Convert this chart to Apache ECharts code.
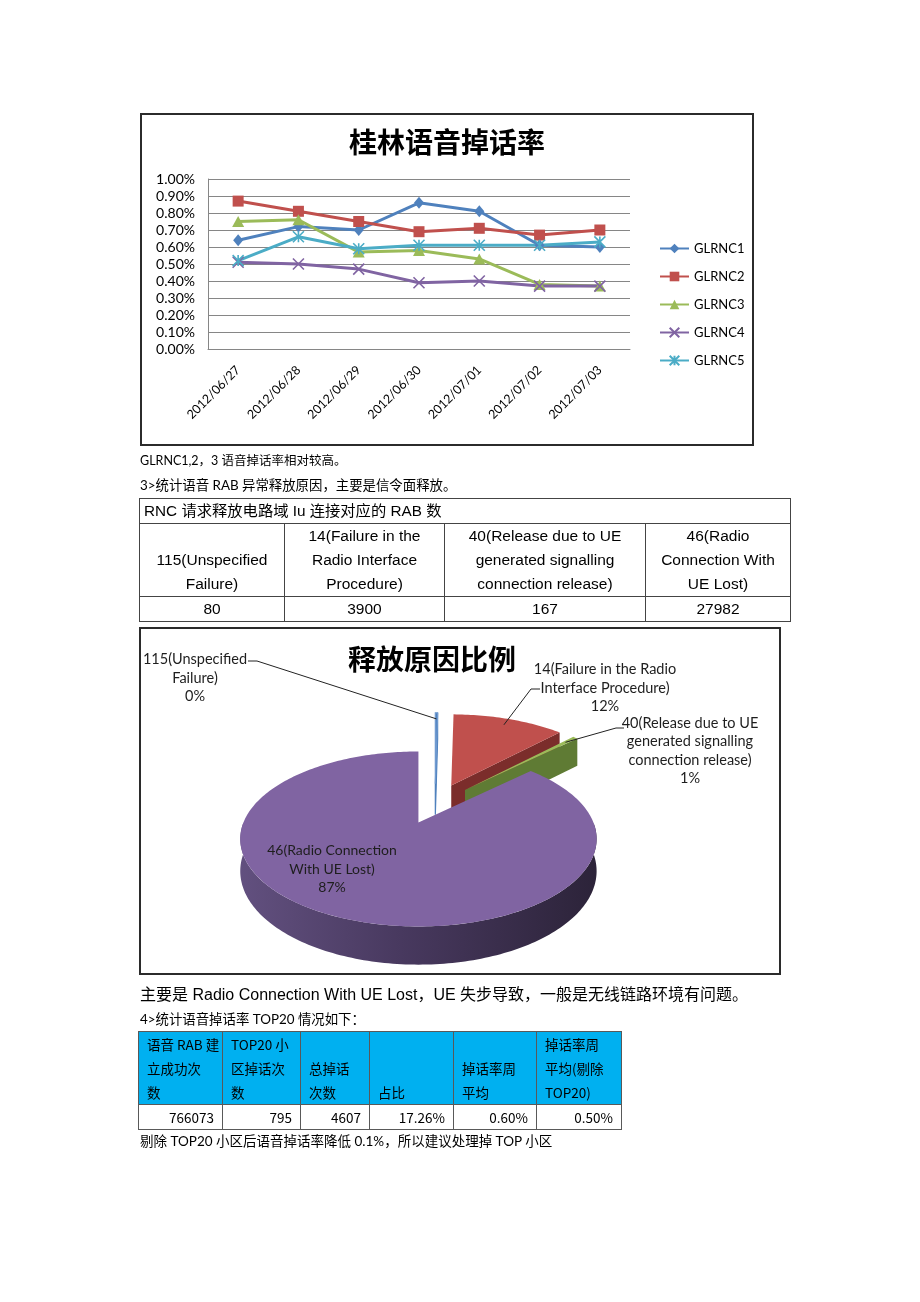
<!DOCTYPE html>
<html><head><meta charset="utf-8">
<script src="https://cdn.jsdelivr.net/npm/echarts@6/dist/echarts.min.js"></script>
<style>
html,body{margin:0;padding:0;background:#fff;}
#page{position:relative;width:920px;height:1302px;overflow:hidden;background:#fff;}
#chart{position:absolute;left:0;top:0;width:920px;height:1302px;}
.t{position:absolute;white-space:nowrap;color:#000;}
.box{position:absolute;border:2px solid #2b2b2b;box-sizing:border-box;}
table{border-collapse:collapse;position:absolute;table-layout:fixed;}
#t1 td{border:1px solid #444;font-family:"Liberation Sans","Noto Sans CJK SC",sans-serif;font-size:15.5px;line-height:24px;padding:0;text-align:center;color:#000;}
#t1 td.h{text-align:left;padding-left:4px;font-size:15.3px;}
#t1 td.b{vertical-align:bottom;}
#t2 td{border:1px solid #595959;font-family:"Noto Sans CJK SC",sans-serif;font-size:13.5px;line-height:24px;padding:0;color:#000;}
#t2 td.hd{background:#00B0F0;vertical-align:bottom;text-align:left;padding-left:8px;}
#t2 td.v{text-align:right;padding-right:8px;}
</style></head>
<body>
<div id="page">
<div id="chart"></div>
<div class="box" style="left:140px;top:113px;width:614px;height:333px;"></div>
<div class="box" style="left:139px;top:627px;width:642px;height:348px;"></div>
<div class="t" id="p1" style="left:140px;top:452px;font:12.5px/18px Lato,'Noto Sans CJK SC';"></div>
<div class="t" id="p2" style="left:140px;top:476px;font:13.4px/18px Lato,'Noto Sans CJK SC';"></div>
<table id="t1" style="left:139px;top:498px;width:651px;"></table>
<div class="t" id="p3" style="left:140px;top:985px;font:16px/20px 'Liberation Sans','Noto Sans CJK SC';"></div>
<div class="t" id="p4" style="left:140px;top:1010px;font:13.4px/18px Lato,'Noto Sans CJK SC';"></div>
<table id="t2" style="left:138px;top:1031px;width:483px;"></table>
<div class="t" id="p5" style="left:140px;top:1132px;font:13.5px/18px Lato,'Noto Sans CJK SC';"></div>
</div>
<script>
// ---------- data ----------
const DATES = ['2012/06/27','2012/06/28','2012/06/29','2012/06/30','2012/07/01','2012/07/02','2012/07/03'];
const GLRNC1 = [0.64,0.72,0.70,0.86,0.81,0.61,0.60];
const GLRNC2 = [0.87,0.81,0.75,0.69,0.71,0.67,0.70];
const GLRNC3 = [0.75,0.76,0.57,0.58,0.53,0.38,0.37];
const GLRNC4 = [0.51,0.50,0.47,0.39,0.40,0.37,0.37];
const GLRNC5 = [0.52,0.66,0.59,0.61,0.61,0.61,0.63];
const Y_TICKS = [0,0.1,0.2,0.3,0.4,0.5,0.6,0.7,0.8,0.9,1.0];

const CAUSE_NAMES = ['115(Unspecified Failure)','14(Failure in the Radio Interface Procedure)','40(Release due to UE generated signalling connection release)','46(Radio Connection With UE Lost)'];
const RAB_COUNTS = [80,3900,167,27982];
const PIE_LABELS = ['115(Unspecified\nFailure)','14(Failure in the Radio\nInterface Procedure)','40(Release due to UE\ngenerated signalling\nconnection release)','46(Radio Connection\nWith UE Lost)'];

const T1_TITLE = 'RNC 请求释放电路域 Iu 连接对应的 RAB 数';
const T1_HEAD = [['115(Unspecified','Failure)'],['14(Failure in the','Radio Interface','Procedure)'],['40(Release due to UE','generated signalling','connection release)'],['46(Radio','Connection With','UE Lost)']];

const T2_HEAD = [['语音 RAB 建','立成功次','数'],['TOP20 小','区掉话次','数'],['总掉话','次数'],['占比'],['掉话率周','平均'],['掉话率周','平均(剔除','TOP20)']];
const T2_VALUES = ['766073','795','4607','17.26%','0.60%','0.50%'];

const TEXT1 = 'GLRNC1,2，3 语音掉话率相对较高。';
const TEXT2 = '3>统计语音 RAB 异常释放原因，主要是信令面释放。';
const TEXT3 = '主要是 Radio Connection With UE Lost，UE 失步导致，一般是无线链路环境有问题。';
const TEXT4 = '4>统计语音掉话率 TOP20 情况如下：';
const TEXT5 = '剔除 TOP20 小区后语音掉话率降低 0.1%，所以建议处理掉 TOP 小区';

// ---------- html text / tables ----------
document.getElementById('p1').textContent = TEXT1;
document.getElementById('p2').textContent = TEXT2;
document.getElementById('p3').textContent = TEXT3;
document.getElementById('p4').textContent = TEXT4;
document.getElementById('p5').textContent = TEXT5;

const T1_COLS = [145,160,201,145];
let h1 = '<colgroup>' + T1_COLS.map(w=>'<col style="width:'+w+'px">').join('') + '</colgroup>';
h1 += '<tr style="height:24px"><td class="h" colspan="4">'+T1_TITLE+'</td></tr>';
h1 += '<tr style="height:73px">' + T1_HEAD.map(l=>'<td class="b">'+l.join('<br>')+'</td>').join('') + '</tr>';
h1 += '<tr style="height:25px">' + RAB_COUNTS.map(v=>'<td>'+v+'</td>').join('') + '</tr>';
document.getElementById('t1').innerHTML = h1;

const T2_COLS = [84,78,69,84,83,85];
let h2 = '<colgroup>' + T2_COLS.map(w=>'<col style="width:'+w+'px">').join('') + '</colgroup>';
h2 += '<tr style="height:72px">' + T2_HEAD.map(l=>'<td class="hd">'+l.join('<br>')+'</td>').join('') + '</tr>';
h2 += '<tr style="height:25px">' + T2_VALUES.map(v=>'<td class="v">'+v+'</td>').join('') + '</tr>';
document.getElementById('t2').innerHTML = h2;

// ---------- chart ----------
const chart = echarts.init(document.getElementById('chart'), null, {renderer:'canvas', width:920, height:1302});
const LATO = 'Lato, "Noto Sans CJK SC", sans-serif';

const XPATH = 'path://M0,0L10,10M10,0L0,10';
const STARPATH = 'path://M5,0L5,10M0,0L10,10M10,0L0,10';

function lineSeries(name, data, color, symbol, size, stroked) {
  return {
    type:'line', name, data, symbol, symbolSize:size, showSymbol:true,
    xAxisIndex:0, yAxisIndex:0,
    lineStyle:{color, width:3},
    itemStyle: stroked ? {color:color, borderColor:color, borderWidth:1.6} : {color:color, borderWidth:0},
    z:2
  };
}

// 3D perspective pie layout
const PIE = {cx:435, cy:804, R:175, RY:84.4, P:0.188, H:31, E:42, K:0.48};
const PIE_TOP = ['#4F81BD','#C0504D','#9BBB59','#8064A2'];
const PIE_SIDE = ['#3A6496','#7B2D2B','#5F7B34','#4A3A62'];
const PIE_ORDER = [2,1,3,4];
const PIE_LABEL_POS = [[195,678],[605,688],[690,751],[332,869]];
const PIE_LABEL_SIZE = [14.5,14.5,14.5,14];
const PIE_LEADER = [[[248,661],[257,661]],[[540,689],[531,689]],[[624,728],[616,728]],null];

const total = RAB_COUNTS.reduce((a,b)=>a+b,0);

function renderSlice(params, api) {
  const i = params.dataIndex;
  const v = api.value(0);
  let before = 0;
  for (let k=0;k<i;k++) before += RAB_COUNTS[k];
  const TWO = Math.PI*2;
  const a0 = before/total*TWO, a1 = (before+v)/total*TWO, am = (a0+a1)/2;
  const vx = PIE.cx + PIE.E*Math.sin(am);
  const vy = PIE.cy - PIE.E*PIE.K*Math.cos(am);
  function P(th, r, bottom) {
    const X = Math.sin(th)*r, Z = Math.cos(th)*r;
    const d = 1 + PIE.P*Z;
    return [vx + PIE.R*X/d, vy - PIE.RY*Z/d + (bottom ? PIE.H/d : 0)];
  }
  function arc(s, e, bottom) {
    const n = Math.max(2, Math.ceil(Math.abs(e-s)/0.02));
    const pts = [];
    for (let j=0;j<=n;j++) pts.push(P(s+(e-s)*j/n, 1, bottom));
    return pts;
  }
  const o = PIE_ORDER[i]*10;
  const children = [];
  const thin = i===0;
  function wall(th) {
    children.push({type:'polygon', z2:o, shape:{points:[P(th,0,false),P(th,1,false),P(th,1,true),P(th,0,true)]},
      style:{fill:PIE_SIDE[i], stroke: thin ? PIE_TOP[i] : null, lineWidth: thin ? 1.2 : 0}});
  }
  if (Math.sin(a0) < -1e-9) wall(a0);
  if (Math.sin(a1) > 1e-9) wall(a1);
  const lo = Math.max(a0, Math.PI/2), hi = Math.min(a1, Math.PI*1.5);
  if (lo < hi) {
    const pts = arc(lo, hi, false).concat(arc(hi, lo, true));
    children.push({type:'polygon', z2:o+1, shape:{points:pts},
      style:{fill: new echarts.graphic.LinearGradient(0,0,1,0,[
        {offset:0,color:'#62507F'},{offset:0.45,color:'#48395F'},{offset:1,color:'#2C2339'}])}});
  }
  const topPts = [P(0,0,false)].concat(arc(a0, a1, false));
  children.push({type:'polygon', z2:o+2, shape:{points:topPts},
    style:{fill:PIE_TOP[i], stroke: thin ? '#6F9AD0' : null, lineWidth: thin ? 1.2 : 0}});
  // label
  const pct = Math.round(v/total*100) + '%';
  const lp = PIE_LABEL_POS[i];
  children.push({type:'text', z2:200, x:lp[0], y:lp[1],
    style:{text: PIE_LABELS[i] + '\n' + pct, font:PIE_LABEL_SIZE[i]+'px Lato, sans-serif', fill:'#1e1e1e',
      align:'center', verticalAlign:'middle', lineHeight:18.5}});
  if (PIE_LEADER[i]) {
    const end = P(am, 0.9, false);
    children.push({type:'polyline', z2:199, shape:{points:PIE_LEADER[i].concat([end])},
      style:{stroke:'#222', lineWidth:1, fill:null}});
  }
  return {type:'group', children};
}

const option = {
  animation:false,
  backgroundColor:'transparent',
  graphic:[
    {type:'text', x:447, y:142, style:{text:'桂林语音掉话率', font:'bold 28px "Noto Sans CJK SC"', fill:'#000', align:'center', verticalAlign:'middle'}},
    {type:'text', x:432, y:659, style:{text:'释放原因比例', font:'bold 28px "Noto Sans CJK SC"', fill:'#000', align:'center', verticalAlign:'middle'}}
  ],
  legend:{
    orient:'vertical', left:654, top:237, itemWidth:29, itemHeight:12, itemGap:15,
    textStyle:{fontFamily:LATO, fontSize:13, color:'#000'},
    data:['GLRNC1','GLRNC2','GLRNC3','GLRNC4','GLRNC5']
  },
  grid:{left:208, top:179, width:422, height:170, containLabel:false},
  xAxis:{type:'category', data:DATES, boundaryGap:true,
    axisLine:{show:true, lineStyle:{color:'#868686', width:1}},
    axisTick:{show:false},
    axisLabel:{rotate:45, interval:0, margin:19, fontFamily:LATO, fontSize:12.5, color:'#000'}},
  yAxis:{type:'value', min:Y_TICKS[0], max:Y_TICKS[Y_TICKS.length-1], interval:Y_TICKS[1]-Y_TICKS[0],
    axisLine:{show:true, lineStyle:{color:'#868686', width:1}},
    axisTick:{show:false},
    splitLine:{show:true, lineStyle:{color:'#868686', width:1}},
    axisLabel:{formatter:v=>v.toFixed(2)+'%', margin:13, fontFamily:LATO, fontSize:14, color:'#000'}},
  series:[
    lineSeries('GLRNC1', GLRNC1, '#4F81BD', 'diamond', [10,12], false),
    lineSeries('GLRNC2', GLRNC2, '#C0504D', 'rect', 11, false),
    lineSeries('GLRNC3', GLRNC3, '#9BBB59', 'triangle', [12,11], false),
    lineSeries('GLRNC4', GLRNC4, '#8064A2', XPATH, 11, true),
    lineSeries('GLRNC5', GLRNC5, '#4BACC6', STARPATH, 11, true),
    {type:'custom', coordinateSystem:'none', silent:true,
     data: RAB_COUNTS.map((v,i)=>({name:CAUSE_NAMES[i], value:[v]})),
     renderItem: renderSlice}
  ]
};
chart.setOption(option);
</script>
</body></html>
